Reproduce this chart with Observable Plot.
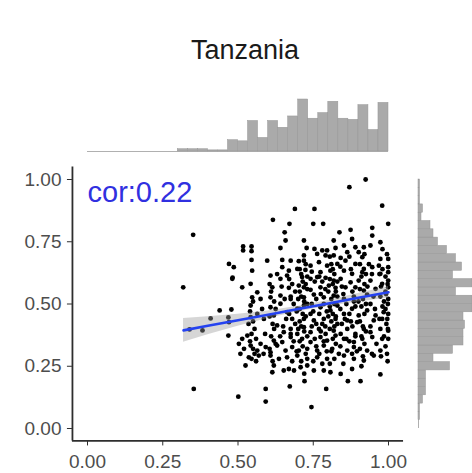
<!DOCTYPE html>
<html>
<head>
<meta charset="utf-8">
<script src="https://cdn.jsdelivr.net/npm/d3@7"></script>
<script src="https://cdn.jsdelivr.net/npm/@observablehq/plot@0.6"></script>
<style>
  html, body { margin: 0; padding: 0; background: #fff; }
  #wrap { position: relative; width: 472px; height: 473px; overflow: hidden; font-family: "Liberation Sans", Arial, sans-serif; }
  #wrap svg { position: absolute; left: 0; top: 0; background: transparent; }
  #title { position: absolute; left: 145px; width: 200px; top: 36px; text-align: center; font-size: 27px; line-height: 28px; color: #1a1a1a; }
</style>
</head>
<body>
<div id="wrap"><div id="title">Tanzania</div></div>
<script>
// ---- data ----
const chartTitle = "Tanzania";
const corLabel = "cor:0.22";
const xTicks = [0, 0.25, 0.5, 0.75, 1];
const yTicks = [0, 0.25, 0.5, 0.75, 1];

// scatter points [x, y]
const points = [
 [0.924,1.0],[0.870,0.969],[0.979,0.895],[0.689,0.882],[0.754,0.882],[0.616,0.838],[0.671,0.822],[0.750,0.822],[0.783,0.822],[0.999,0.822],
 [0.351,0.778],[0.655,0.788],[0.837,0.788],[0.874,0.798],[0.946,0.806],[0.658,0.755],[0.946,0.775],[0.879,0.761],[0.818,0.755],[0.719,0.755],
 [0.973,0.748],[0.517,0.731],[0.545,0.731],[0.517,0.715],[0.545,0.712],[0.641,0.725],[0.728,0.725],[0.754,0.721],[0.780,0.715],[0.796,0.715],
 [0.824,0.725],[0.852,0.735],[0.890,0.728],[0.918,0.728],[0.940,0.735],[0.719,0.695],[0.763,0.701],[0.791,0.695],[0.818,0.695],[0.841,0.685],
 [0.863,0.708],[0.901,0.708],[0.913,0.688],[0.973,0.681],[0.999,0.681],[0.545,0.677],[0.597,0.674],[0.470,0.661],[0.486,0.648],[0.547,0.634],
 [0.647,0.677],[0.675,0.674],[0.702,0.672],[0.719,0.674],[0.741,0.654],[0.769,0.668],[0.796,0.654],[0.830,0.661],[0.857,0.674],[0.890,0.661],
 [0.918,0.641],[0.946,0.648],[0.968,0.654],[0.999,0.648],[0.647,0.648],[0.669,0.634],[0.697,0.641],[0.724,0.637],[0.774,0.628],[0.807,0.634],
 [0.852,0.634],[0.879,0.621],[0.913,0.628],[0.973,0.621],[0.999,0.628],[0.481,0.601],[0.542,0.581],[0.608,0.614],[0.641,0.601],[0.663,0.614],
 [0.713,0.608],[0.741,0.601],[0.763,0.608],[0.791,0.605],[0.818,0.594],[0.841,0.601],[0.874,0.587],[0.901,0.594],[0.940,0.594],[0.979,0.581],
 [0.999,0.594],[0.318,0.567],[0.514,0.567],[0.564,0.547],[0.614,0.567],[0.669,0.565],[0.702,0.574],[0.719,0.567],[0.741,0.557],[0.774,0.567],
 [0.802,0.574],[0.824,0.565],[0.857,0.567],[0.890,0.567],[0.918,0.554],[0.957,0.561],[0.999,0.567],[0.547,0.527],[0.608,0.527],[0.641,0.534],
 [0.675,0.520],[0.719,0.527],[0.752,0.538],[0.785,0.527],[0.818,0.534],[0.852,0.520],[0.885,0.530],[0.929,0.538],[0.973,0.530],[0.999,0.520],
 [0.542,0.494],[0.564,0.460],[0.608,0.487],[0.641,0.501],[0.663,0.467],[0.697,0.481],[0.719,0.494],[0.741,0.460],[0.774,0.487],[0.807,0.474],
 [0.830,0.494],[0.852,0.460],[0.879,0.481],[0.901,0.454],[0.929,0.474],[0.957,0.454],[0.984,0.467],[0.999,0.460],
 [0.542,0.447],[0.586,0.440],[0.619,0.454],[0.719,0.440],[0.752,0.434],[0.785,0.440],[0.824,0.440],[0.863,0.434],[0.896,0.427],[0.951,0.434],[0.979,0.440],
 [0.470,0.427],[0.514,0.360],[0.531,0.373],
 [0.630,0.414],[0.652,0.387],[0.675,0.400],[0.697,0.380],[0.719,0.407],[0.741,0.387],[0.769,0.400],[0.791,0.380],[0.818,0.393],[0.841,0.380],
 [0.863,0.400],[0.890,0.380],[0.918,0.400],[0.940,0.387],[0.973,0.400],[0.999,0.393],
 [0.619,0.353],[0.647,0.347],[0.675,0.367],[0.713,0.360],[0.741,0.347],[0.774,0.367],[0.796,0.353],[0.824,0.373],[0.852,0.360],[0.885,0.347],
 [0.913,0.360],[0.946,0.367],[0.979,0.360],[0.999,0.360],
 [0.503,0.340],[0.520,0.320],[0.542,0.333],[0.564,0.313],[0.592,0.327],[0.608,0.306],[0.630,0.333],[0.658,0.313],[0.680,0.327],[0.702,0.313],
 [0.730,0.320],[0.763,0.313],[0.785,0.333],[0.813,0.320],[0.835,0.300],[0.863,0.313],[0.885,0.327],[0.929,0.313],[0.973,0.313],
 [0.508,0.300],[0.536,0.286],[0.569,0.293],[0.608,0.293],[0.636,0.280],[0.663,0.286],[0.697,0.293],[0.730,0.280],[0.763,0.286],[0.796,0.280],
 [0.852,0.293],[0.879,0.300],[0.951,0.293],[0.918,0.273],
 [0.525,0.253],[0.619,0.253],[0.652,0.233],[0.686,0.233],[0.708,0.246],[0.730,0.253],[0.752,0.233],[0.785,0.233],[0.807,0.226],[0.841,0.219],
 [0.879,0.239],[0.973,0.217],[0.614,0.226],[0.669,0.239],
 [0.721,0.190],[0.865,0.190],[0.907,0.190],[0.672,0.169],[0.353,0.159],[0.592,0.159],[0.793,0.159],[0.501,0.128],[0.592,0.108],[0.744,0.086],
 [0.339,0.398],[0.382,0.394],[0.409,0.442],[0.439,0.474],[0.478,0.478],[0.468,0.446],[0.468,0.373],[0.482,0.606],
 [0.995,0.70],[0.99,0.61],[0.997,0.58],[0.992,0.54],[0.998,0.50],[0.99,0.48],[0.996,0.44],[0.993,0.42],[0.998,0.40],[0.99,0.33],
 [0.995,0.30],[0.997,0.27],[0.99,0.55],[0.985,0.51],[0.98,0.64],[0.975,0.57],[0.98,0.49],[0.97,0.44],[0.985,0.37],[0.975,0.29],[0.97,0.62],[0.98,0.72],
 [0.905,0.66],[0.91,0.61],[0.92,0.58],[0.905,0.56],[0.915,0.52],[0.925,0.50],[0.91,0.49],[0.92,0.46],[0.905,0.43],[0.915,0.41],
 [0.925,0.39],[0.91,0.37],[0.92,0.34],[0.905,0.32],[0.915,0.29],[0.925,0.62],[0.93,0.57],[0.9,0.51],[0.92,0.70],[0.91,0.25],
 [0.805,0.69],[0.81,0.66],[0.82,0.62],[0.805,0.60],[0.815,0.58],[0.825,0.55],[0.81,0.52],[0.82,0.50],[0.805,0.49],[0.815,0.46],
 [0.825,0.45],[0.81,0.43],[0.82,0.41],[0.805,0.40],[0.815,0.36],[0.825,0.34],[0.81,0.31],[0.82,0.28],[0.805,0.26],[0.83,0.59],
 [0.83,0.53],[0.83,0.42],[0.8,0.45],[0.8,0.55],[0.815,0.64],
 [0.705,0.64],[0.71,0.62],[0.715,0.59],[0.725,0.58],[0.705,0.55],[0.71,0.53],[0.72,0.51],[0.73,0.50],[0.705,0.48],[0.715,0.46],
 [0.725,0.45],[0.705,0.43],[0.71,0.41],[0.72,0.39],[0.73,0.37],[0.705,0.35],[0.715,0.33],[0.725,0.30],[0.71,0.27],[0.72,0.22],
 [0.73,0.56],[0.73,0.61],[0.7,0.52],[0.7,0.40],[0.725,0.66],
 [0.745,0.63],[0.755,0.59],[0.76,0.52],[0.745,0.50],[0.75,0.47],[0.76,0.42],[0.745,0.41],[0.755,0.36],[0.76,0.33],[0.75,0.27],
 [0.77,0.61],[0.78,0.59],[0.79,0.56],[0.775,0.54],[0.785,0.50],[0.795,0.47],[0.77,0.46],[0.78,0.42],[0.79,0.41],[0.775,0.39],
 [0.785,0.35],[0.795,0.31],[0.77,0.30],[0.78,0.26],
 [0.84,0.65],[0.845,0.57],[0.85,0.54],[0.86,0.50],[0.84,0.48],[0.855,0.44],[0.845,0.42],[0.86,0.36],[0.84,0.33],[0.85,0.26],
 [0.87,0.69],[0.875,0.64],[0.88,0.55],[0.885,0.51],[0.89,0.49],[0.87,0.46],[0.875,0.43],[0.88,0.41],[0.89,0.37],[0.87,0.35],[0.895,0.31],[0.885,0.28],
 [0.935,0.66],[0.945,0.62],[0.95,0.53],[0.94,0.50],[0.955,0.48],[0.94,0.41],[0.96,0.34],[0.945,0.30],
 [0.67,0.60],[0.68,0.58],[0.69,0.55],[0.675,0.53],[0.685,0.50],[0.695,0.47],[0.67,0.46],[0.68,0.44],[0.69,0.42],[0.675,0.38],
 [0.685,0.35],[0.695,0.31],[0.68,0.27],
 [0.645,0.57],[0.655,0.52],[0.66,0.44],[0.65,0.41],[0.64,0.37],
 [0.605,0.58],[0.61,0.55],[0.62,0.51],[0.625,0.48],[0.605,0.45],[0.615,0.42],[0.62,0.40],[0.61,0.37],[0.625,0.34],[0.605,0.32],[0.615,0.27],[0.63,0.62],
 [0.575,0.52],[0.58,0.48],[0.59,0.38],[0.575,0.34],[0.585,0.30],
 [0.54,0.47],[0.55,0.43],[0.555,0.40],[0.545,0.38],[0.56,0.36],[0.54,0.35],[0.55,0.32],[0.555,0.30],[0.545,0.28],[0.56,0.27],[0.535,0.42],[0.55,0.51]
];

// fitted regression line and confidence band
const fitX  = [0.319, 0.40, 0.50, 0.60, 0.70, 0.80, 0.90, 1.00];
const fitY  = [0.394, 0.413, 0.435, 0.457, 0.480, 0.502, 0.525, 0.547];
const fitLo = [0.346, 0.377, 0.411, 0.442, 0.469, 0.490, 0.508, 0.524];
const fitHi = [0.442, 0.449, 0.459, 0.472, 0.491, 0.514, 0.542, 0.570];

// marginal histograms: 30 bins over [0, 1]
const xHistCounts = [0,0,0,0,0,0,0,0,0,2,2,2,1,1,10,9,27,12,27,21,31,46,29,34,44,29,28,41,19,43];
const yHistCounts = [0,1,1,3,5,5,5,21,10,23,30,30,31,30,40,40,25,38,23,29,25,19,13,10,8,2,3,1,1,1];

// ---- build ----
const W = 472, H = 473;
const font = "'Liberation Sans', Arial, Helvetica, sans-serif";
const pts = points.map(([x, y]) => ({x, y}));
const fit = fitX.map((x, i) => ({x, y: fitY[i], lo: fitLo[i], hi: fitHi[i]}));
const nb = xHistCounts.length;
const xBins = xHistCounts.map((n, k) => ({a: k / nb, b: (k + 1) / nb, n})).filter(d => d.n > 0);
const yBins = yHistCounts.map((n, k) => ({a: k / nb, b: (k + 1) / nb, n})).filter(d => d.n > 0);
const fmt = d3.format(".2f");
const axisColor = "#2e2e2e";
const textColor = "#4d4d4d";
const barFill = "#aaaaaa", barStroke = "#969696";

const frame = {marginLeft: 71.95, marginRight: 68.95};
const yFrame = {marginTop: 166.55, marginBottom: 32.55};

const mainPlot = Plot.plot({
  width: W, height: H, ...frame, ...yFrame,
  style: {fontFamily: font, fontSize: "19px", background: "transparent", overflow: "visible"},
  x: {domain: [-0.05, 1.05]},
  y: {domain: [-0.05, 1.05]},
  marks: [
    Plot.dot(pts, {x: "x", y: "y", r: 2.4, fill: "#000"}),
    Plot.areaY(fit, {x: "x", y1: "lo", y2: "hi", fill: "#999999", fillOpacity: 0.4}),
    Plot.line(fit, {x: "x", y: "y", stroke: "#2442f0", strokeWidth: 2.6}),
    Plot.ruleX([-0.05], {stroke: axisColor, strokeWidth: 1.8}),
    Plot.ruleY([-0.05], {stroke: axisColor, strokeWidth: 1.8}),
    Plot.axisX({ticks: xTicks, tickFormat: fmt, tickSize: 5, tickPadding: 9, stroke: axisColor, fill: textColor, label: null, fontSize: 19}),
    Plot.axisY({ticks: yTicks, tickFormat: fmt, tickSize: 5, tickPadding: 6, stroke: axisColor, fill: textColor, label: null, fontSize: 19}),
    Plot.text([corLabel], {x: () => 0, y: () => 0.947, text: d => d, textAnchor: "start", fill: "#3030e0", fontSize: 29})
  ]
});

const topHist = Plot.plot({
  width: W, height: H, ...frame, marginTop: 99, marginBottom: H - 151,
  style: {background: "transparent"},
  x: {domain: [-0.05, 1.05], axis: null},
  y: {domain: [0, 46], axis: null},
  marks: [
    Plot.ruleY([0], {x1: () => 0, x2: () => 1, stroke: "#b0b0b0", strokeWidth: 1}),
    Plot.rectY(xBins, {x1: "a", x2: "b", y1: () => 0, y2: "n", fill: barFill, stroke: barStroke, strokeWidth: 0.5})
  ]
});

const rightHist = Plot.plot({
  width: W, height: H, marginLeft: 418, marginRight: 0, ...yFrame,
  style: {background: "transparent"},
  x: {domain: [0, 36], axis: null, clamp: true},
  y: {domain: [-0.05, 1.05], axis: null},
  marks: [
    Plot.ruleX([0], {y1: () => 0, y2: () => 1, stroke: "#b0b0b0", strokeWidth: 1}),
    Plot.rectX(yBins, {y1: "a", y2: "b", x1: () => 0, x2: "n", fill: barFill, stroke: barStroke, strokeWidth: 0.5})
  ]
});

const wrap = document.getElementById("wrap");
document.getElementById("title").textContent = chartTitle;
wrap.appendChild(topHist);
wrap.appendChild(rightHist);
wrap.appendChild(mainPlot);
</script>
</body>
</html>
